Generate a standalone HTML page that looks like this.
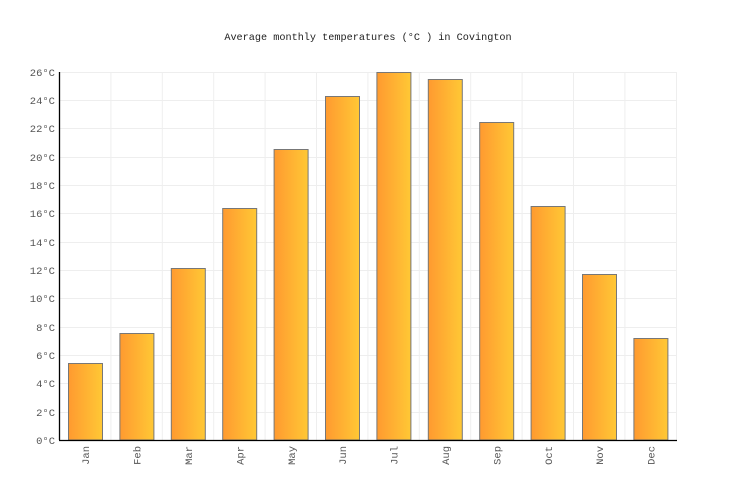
<!DOCTYPE html>
<html><head><meta charset="utf-8"><style>
html,body{margin:0;padding:0;background:#fff;}
svg{display:block;}
text{font-family:"Liberation Mono","DejaVu Sans Mono",monospace;}
</style></head><body>
<svg width="736" height="500" viewBox="0 0 736 500" xmlns="http://www.w3.org/2000/svg">
<defs>
<linearGradient id="g" x1="0" x2="1" y1="0" y2="0">
<stop offset="0" stop-color="#ff9a30"/>
<stop offset="1" stop-color="#ffc835"/>
</linearGradient>
</defs>
<rect width="736" height="500" fill="#fff"/>
<text x="368" y="40" font-size="10.2" text-anchor="middle" fill="#222">Average monthly temperatures (°C ) in Covington</text>
<g stroke="#eeeeee" stroke-width="1">
<line x1="60" x2="677" y1="72.5" y2="72.5"/>
<line x1="60" x2="677" y1="100.5" y2="100.5"/>
<line x1="60" x2="677" y1="128.5" y2="128.5"/>
<line x1="60" x2="677" y1="157.5" y2="157.5"/>
<line x1="60" x2="677" y1="185.5" y2="185.5"/>
<line x1="60" x2="677" y1="213.5" y2="213.5"/>
<line x1="60" x2="677" y1="242.5" y2="242.5"/>
<line x1="60" x2="677" y1="270.5" y2="270.5"/>
<line x1="60" x2="677" y1="298.5" y2="298.5"/>
<line x1="60" x2="677" y1="327.5" y2="327.5"/>
<line x1="60" x2="677" y1="355.5" y2="355.5"/>
<line x1="60" x2="677" y1="383.5" y2="383.5"/>
<line x1="60" x2="677" y1="412.5" y2="412.5"/>
<line y1="72" y2="440" x1="110.9" x2="110.9"/>
<line y1="72" y2="440" x1="162.3" x2="162.3"/>
<line y1="72" y2="440" x1="213.7" x2="213.7"/>
<line y1="72" y2="440" x1="265.1" x2="265.1"/>
<line y1="72" y2="440" x1="316.5" x2="316.5"/>
<line y1="72" y2="440" x1="367.9" x2="367.9"/>
<line y1="72" y2="440" x1="419.3" x2="419.3"/>
<line y1="72" y2="440" x1="470.7" x2="470.7"/>
<line y1="72" y2="440" x1="522.1" x2="522.1"/>
<line y1="72" y2="440" x1="573.5" x2="573.5"/>
<line y1="72" y2="440" x1="624.9" x2="624.9"/>
<line y1="72" y2="440" x1="676.5" x2="676.5"/>
</g>
<g fill="url(#g)" stroke="#777" stroke-width="1">
<rect x="68.5" y="363.5" width="34" height="76.5"/>
<rect x="119.9" y="333.5" width="34" height="106.5"/>
<rect x="171.3" y="268.5" width="34" height="171.5"/>
<rect x="222.7" y="208.5" width="34" height="231.5"/>
<rect x="274.1" y="149.5" width="34" height="290.5"/>
<rect x="325.5" y="96.5" width="34" height="343.5"/>
<rect x="376.9" y="72.5" width="34" height="367.5"/>
<rect x="428.3" y="79.5" width="34" height="360.5"/>
<rect x="479.7" y="122.5" width="34" height="317.5"/>
<rect x="531.1" y="206.5" width="34" height="233.5"/>
<rect x="582.5" y="274.5" width="34" height="165.5"/>
<rect x="633.9" y="338.5" width="34" height="101.5"/>
</g>
<line x1="59.5" x2="59.5" y1="72" y2="440" stroke="#000" stroke-width="1.3"/>
<line x1="59" x2="677" y1="440.5" y2="440.5" stroke="#000" stroke-width="1.3"/>
<g font-size="10.5" fill="#555" text-anchor="end">
<text x="55" y="76">26°C</text>
<text x="55" y="104">24°C</text>
<text x="55" y="132">22°C</text>
<text x="55" y="161">20°C</text>
<text x="55" y="189">18°C</text>
<text x="55" y="217">16°C</text>
<text x="55" y="246">14°C</text>
<text x="55" y="274">12°C</text>
<text x="55" y="302">10°C</text>
<text x="55" y="331">8°C</text>
<text x="55" y="359">6°C</text>
<text x="55" y="387">4°C</text>
<text x="55" y="416">2°C</text>
<text x="55" y="444">0°C</text>
</g>
<g font-size="10.5" fill="#555" text-anchor="end">
<text transform="translate(89.2,446) rotate(-90)">Jan</text>
<text transform="translate(140.6,446) rotate(-90)">Feb</text>
<text transform="translate(192,446) rotate(-90)">Mar</text>
<text transform="translate(243.4,446) rotate(-90)">Apr</text>
<text transform="translate(294.8,446) rotate(-90)">May</text>
<text transform="translate(346.2,446) rotate(-90)">Jun</text>
<text transform="translate(397.6,446) rotate(-90)">Jul</text>
<text transform="translate(449,446) rotate(-90)">Aug</text>
<text transform="translate(500.4,446) rotate(-90)">Sep</text>
<text transform="translate(551.8,446) rotate(-90)">Oct</text>
<text transform="translate(603.2,446) rotate(-90)">Nov</text>
<text transform="translate(654.6,446) rotate(-90)">Dec</text>
</g>
</svg>
</body></html>
